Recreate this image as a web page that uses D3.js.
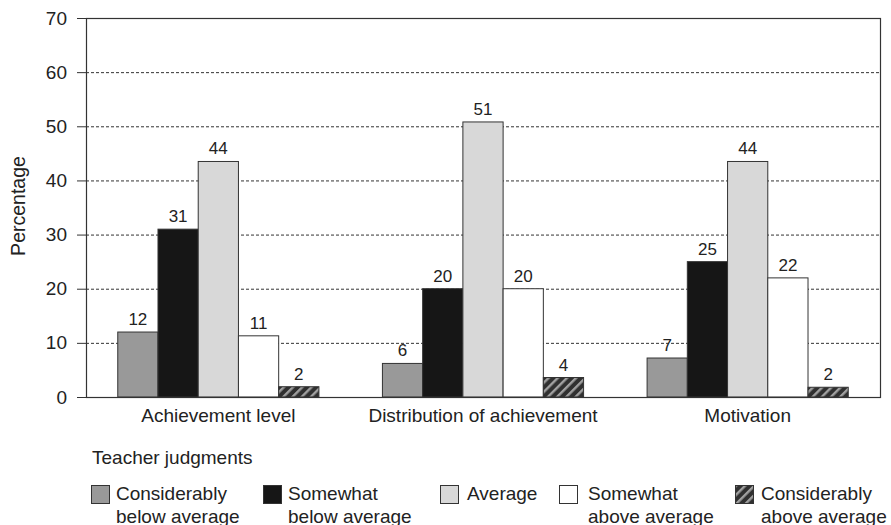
<!DOCTYPE html>
<html><head><meta charset="utf-8">
<script src="https://cdn.jsdelivr.net/npm/d3@7"></script>
<style>
body{margin:0;background:#fff;}
svg text{font-family:"Liberation Sans",Arial,sans-serif;fill:#222;}
</style></head>
<body><svg id="c" width="891" height="525"></svg>
<script>
const categories = ["Achievement level", "Distribution of achievement", "Motivation"];
const seriesNames = ["Considerably below average", "Somewhat below average", "Average", "Somewhat above average", "Considerably above average"];
const legendLines = [["Considerably","below average"],["Somewhat","below average"],["Average"],["Somewhat","above average"],["Considerably","above average"]];
const valuesAchievement = [12.0, 31.0, 43.5, 11.3, 1.9];
const valuesDistribution = [6.2, 20.0, 50.8, 20.0, 3.6];
const valuesMotivation = [7.2, 25.0, 43.5, 22.0, 1.8];
const labelsAchievement = [12, 31, 44, 11, 2];
const labelsDistribution = [6, 20, 51, 20, 4];
const labelsMotivation = [7, 25, 44, 22, 2];
const yTicks = [0,10,20,30,40,50,60,70];
const fills = ["#999999", "#161616", "#d8d8d8", "#ffffff", "url(#hatch)"];

const values = [valuesAchievement, valuesDistribution, valuesMotivation];
const labels = [labelsAchievement, labelsDistribution, labelsMotivation];

const svg = d3.select("#c");
const m = {l:86, r:880, t:18, b:397};

const defs = svg.append("defs");
const pat = defs.append("pattern").attr("id","hatch").attr("patternUnits","userSpaceOnUse")
  .attr("width",6.5).attr("height",6.5).attr("patternTransform","rotate(45)");
pat.append("rect").attr("width",6.5).attr("height",6.5).attr("fill","#303030");
pat.append("rect").attr("x",0).attr("width",2.4).attr("height",6.5).attr("fill","#a0a0a0");

const y = d3.scaleLinear().domain([0,70]).range([m.b, m.t]);
const x0 = d3.scaleBand().domain(categories).range([m.l, m.r]).paddingInner(0.24).paddingOuter(0.12);
const x1 = d3.scaleBand().domain(d3.range(seriesNames.length)).range([0, x0.bandwidth()]);

// grid lines
svg.append("g").selectAll("line").data(yTicks.filter(t=>t>0 && t<70)).join("line")
  .attr("x1", m.l).attr("x2", m.r).attr("y1", d=>y(d)+0.5).attr("y2", d=>y(d)+0.5)
  .attr("stroke","#333").attr("stroke-width",1).attr("stroke-dasharray","3,2");

// y axis
const yAxis = d3.axisLeft(y).tickValues(yTicks).tickSize(9).tickPadding(10);
const ga = svg.append("g").attr("transform",`translate(${m.l},0)`).call(yAxis);
ga.select(".domain").remove();
ga.selectAll(".tick line").attr("stroke","#333");
ga.selectAll(".tick text").attr("font-size",19).style("fill","#222");

// bars
const groups = svg.append("g").selectAll("g").data(categories).join("g")
  .attr("transform", d=>`translate(${x0(d)},0)`);
groups.each(function(cat, ci){
  const g = d3.select(this);
  g.selectAll("rect").data(values[ci]).join("rect")
    .attr("x", (d,i)=>x1(i)).attr("width", x1.bandwidth())
    .attr("y", d=>y(d)).attr("height", d=>y(0)-y(d))
    .attr("fill", (d,i)=>fills[i]).attr("stroke","#333").attr("stroke-width",1);
  g.selectAll("text").data(values[ci]).join("text")
    .attr("x", (d,i)=>x1(i)+x1.bandwidth()/2).attr("y", d=>y(d)-7)
    .attr("text-anchor","middle").attr("font-size",17)
    .text((d,i)=>labels[ci][i]);
});

// frame
svg.append("rect").attr("x",m.l+0.5).attr("y",m.t+0.5).attr("width",m.r-m.l).attr("height",m.b-m.t)
  .attr("fill","none").attr("stroke","#333").attr("stroke-width",1.2);

// x labels
const xAxis = d3.axisBottom(x0).tickSize(0).tickPadding(12);
const gx = svg.append("g").attr("transform",`translate(0,${m.b})`).call(xAxis);
gx.select(".domain").remove();
gx.selectAll(".tick text").attr("font-size",19).style("fill","#222");

// y title
svg.append("text").attr("transform","translate(25,206) rotate(-90)")
  .attr("text-anchor","middle").attr("font-size",19.5).text("Percentage");

// legend
svg.append("text").attr("x",92).attr("y",464).attr("font-size",19).text("Teacher judgments");
const legX = [91, 263, 440, 559, 735];
const legTextX = [116, 288, 467, 588, 761];
const lg = svg.append("g").selectAll("g").data(seriesNames).join("g")
  .attr("transform",(d,i)=>`translate(${legX[i]},485)`);
lg.append("rect").attr("x",0.5).attr("y",0.5).attr("width",18).attr("height",18)
  .attr("fill",(d,i)=>fills[i]).attr("stroke","#333");
lg.each(function(d,i){
  const tx = legTextX[i]-legX[i];
  const t = d3.select(this).append("text").attr("x",tx).attr("y",15).attr("font-size",19);
  legendLines[i].forEach((s,k)=>t.append("tspan").attr("x",tx).attr("dy",k?22.5:0).text(s));
});
</script></body></html>
